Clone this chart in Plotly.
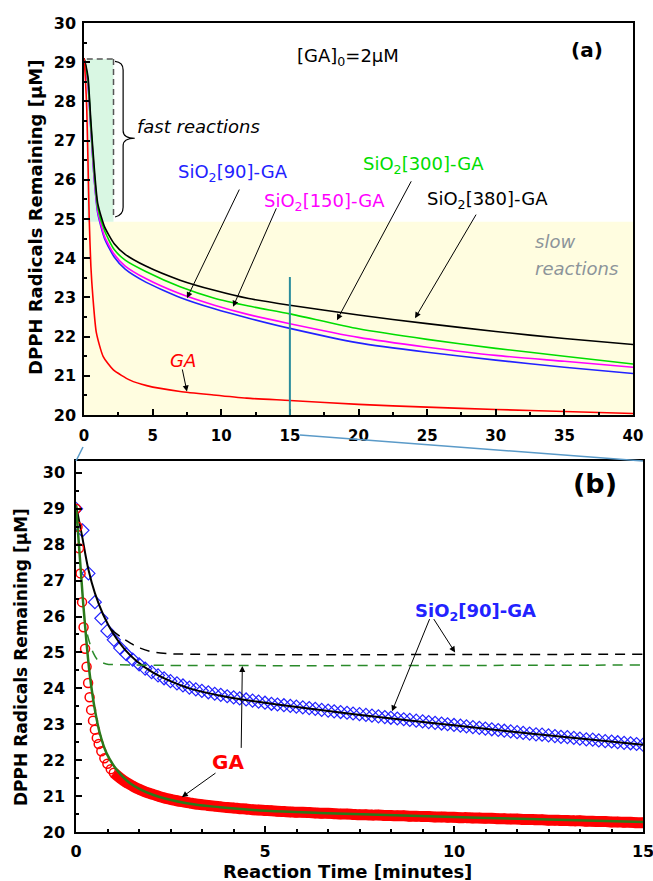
import plotly.graph_objects as go

# ---------------- Panel (a) data ----------------
a_t = [0, 0.15, 0.3, 0.5, 0.75, 1.0, 1.5, 2.2, 3.0, 4.5, 7.0, 9.5, 12, 15, 20, 25, 30, 35, 40]
a_380 = [29.1, 28.9, 28.6, 27.5, 26.3, 25.4, 24.8, 24.37, 24.1, 23.8, 23.44, 23.18, 22.97, 22.8, 22.55, 22.33, 22.13, 21.95, 21.8]
a_300 = [29.1, 28.85, 28.5, 27.4, 26.15, 25.3, 24.7, 24.22, 23.95, 23.66, 23.27, 22.98, 22.78, 22.58, 22.2, 21.93, 21.7, 21.5, 21.3]
a_150 = [29.1, 28.8, 28.4, 27.3, 26.0, 25.2, 24.55, 24.1, 23.8, 23.48, 23.09, 22.8, 22.56, 22.33, 21.98, 21.73, 21.52, 21.37, 21.22]
a_90 = [29.1, 28.8, 28.4, 27.3, 26.0, 25.15, 24.5, 24.03, 23.72, 23.39, 23.0, 22.71, 22.47, 22.21, 21.84, 21.6, 21.4, 21.22, 21.06]
a_ga_t = [0, 0.1, 0.2, 0.3, 0.38, 0.5, 0.65, 0.9, 1.4, 2.14, 3.35, 4.57, 7, 9.43, 11.86, 15, 20, 25, 30, 35, 40]
a_ga = [29.1, 28.6, 27.8, 26.3, 25.0, 23.8, 23.0, 22.1, 21.49, 21.15, 20.89, 20.75, 20.6, 20.51, 20.43, 20.37, 20.27, 20.2, 20.14, 20.09, 20.04]

# ---------------- Panel (b) data ----------------
b_sio_t = [0, 0.17, 0.33, 0.5, 0.67, 0.83, 1.0, 1.17, 1.33, 1.5, 1.67, 1.83, 2.0, 2.17, 2.33, 2.5,
           2.67, 2.83, 3.0, 3.17, 3.33, 3.5, 3.67, 3.83, 4.0, 4.17, 4.33, 4.5, 4.67, 4.83, 5.0,
           5.17, 5.33, 5.5, 5.67, 5.83, 6.0, 6.17, 6.33, 6.5, 6.67, 6.83, 7.0, 7.17, 7.33, 7.5,
           7.67, 7.83, 8.0, 8.17, 8.33, 8.5, 8.67, 8.83, 9.0, 9.17, 9.33, 9.5, 9.67, 9.83, 10.0,
           10.17, 10.33, 10.5, 10.67, 10.83, 11.0, 11.17, 11.33, 11.5, 11.67, 11.83, 12.0, 12.17,
           12.33, 12.5, 12.67, 12.83, 13.0, 13.17, 13.33, 13.5, 13.67, 13.83, 14.0, 14.17, 14.33,
           14.5, 14.67, 14.83, 15.0]
b_sio = [29.0, 28.4, 27.2, 26.4, 25.95, 25.6, 25.35, 25.12, 24.95, 24.8, 24.67, 24.55, 24.45, 24.36, 24.28, 24.2,
         24.14, 24.08, 24.02, 23.97, 23.93, 23.89, 23.85, 23.82, 23.78, 23.75, 23.72, 23.69, 23.66, 23.63, 23.6,
         23.57, 23.55, 23.53, 23.51, 23.49, 23.47, 23.45, 23.43, 23.4, 23.38, 23.36, 23.34, 23.32, 23.3, 23.28,
         23.26, 23.24, 23.22, 23.2, 23.18, 23.16, 23.14, 23.12, 23.1, 23.08, 23.06, 23.04, 23.02, 23.0, 22.98,
         22.96, 22.94, 22.92, 22.9, 22.88, 22.86, 22.84, 22.82, 22.8, 22.78, 22.76, 22.74, 22.72,
         22.71, 22.69, 22.67, 22.65, 22.64, 22.62, 22.6, 22.58, 22.57, 22.55, 22.53, 22.52, 22.5,
         22.48, 22.47, 22.45, 22.43]
b_sio_fit_t = [0, 0.15, 0.33, 0.5, 0.72, 1.0, 1.3, 1.6, 2.05, 2.5, 3, 4, 5, 6, 8, 10, 12, 15]
b_sio_fit = [29.1, 28.3, 27.3, 26.65, 26.05, 25.5, 25.07, 24.76, 24.43, 24.2, 24.0, 23.76, 23.6, 23.46, 23.2, 22.97, 22.74, 22.43]
b_sio_fast_t = [0.94, 1.2, 1.45, 1.7, 2.0, 2.4, 3.0, 15]
b_sio_fast = [25.63, 25.42, 25.25, 25.12, 25.02, 24.97, 24.95, 24.95]

b_ga_t = [0, 0.04, 0.08, 0.12, 0.16, 0.2, 0.24, 0.28, 0.32, 0.36, 0.4, 0.45, 0.5, 0.55, 0.6, 0.67, 0.75, 0.83, 0.92,
          1.0, 1.17, 1.33, 1.5, 1.67, 1.83, 2.0, 2.17, 2.33, 2.5,
          2.67, 2.83, 3.0, 3.17, 3.33, 3.5, 3.67, 3.83, 4.0, 4.17, 4.33, 4.5, 4.67, 4.83, 5.0,
          5.17, 5.33, 5.5, 5.67, 5.83, 6.0, 6.17, 6.33, 6.5, 6.67, 6.83, 7.0, 7.17, 7.33, 7.5,
          7.67, 7.83, 8.0, 8.17, 8.33, 8.5, 8.67, 8.83, 9.0, 9.17, 9.33, 9.5, 9.67, 9.83, 10.0,
          10.17, 10.33, 10.5, 10.67, 10.83, 11.0, 11.17, 11.33, 11.5, 11.67, 11.83, 12.0, 12.17,
          12.33, 12.5, 12.67, 12.83, 13.0, 13.17, 13.33, 13.5, 13.67, 13.83, 14.0, 14.17, 14.33,
          14.5, 14.67, 14.83, 15.0]
b_ga = [29.0, 28.5, 27.9, 27.2, 26.4, 25.7, 25.1, 24.6, 24.15, 23.75, 23.4, 23.1, 22.85, 22.62, 22.45, 22.25, 22.05, 21.9, 21.75,
        21.65, 21.5, 21.38, 21.28, 21.19, 21.12, 21.06, 21.0, 20.95, 20.91,
        20.87, 20.84, 20.81, 20.78, 20.76, 20.74, 20.72, 20.7, 20.68, 20.67, 20.65, 20.64, 20.62, 20.61, 20.6,
        20.59, 20.58, 20.57, 20.56, 20.55, 20.55, 20.54, 20.53, 20.52, 20.52, 20.51, 20.5, 20.5, 20.49, 20.48,
        20.48, 20.47, 20.47, 20.46, 20.46, 20.45, 20.45, 20.44, 20.44, 20.43, 20.43, 20.42, 20.42, 20.41, 20.41,
        20.4, 20.4, 20.39, 20.39, 20.38, 20.38, 20.37, 20.37, 20.36, 20.36, 20.35, 20.35, 20.34,
        20.34, 20.33, 20.33, 20.32, 20.32, 20.31, 20.31, 20.3, 20.3, 20.29, 20.29, 20.28, 20.28,
        20.27, 20.27, 20.26, 20.26]
b_ga_fit_t = [0, 0.1, 0.19, 0.28, 0.37, 0.5, 0.63, 0.81, 1.08, 1.43, 2.05, 2.93, 3.81, 5.04, 6.45, 8, 10, 12, 15]
b_ga_fit = [29.1, 27.67, 26.37, 25.26, 24.33, 23.4, 22.75, 22.19, 21.73, 21.36, 21.03, 20.8, 20.69, 20.59, 20.53, 20.48, 20.42, 20.36, 20.28]
b_ga_fast_t = [0.3, 0.38, 0.46, 0.55, 0.65, 0.8, 1.0, 15]
b_ga_fast = [25.5, 25.2, 24.98, 24.82, 24.74, 24.68, 24.66, 24.65]

FONT = "DejaVu Sans"
BLUE = "#2222ff"
GREEN = "#00dd00"
MAG = "#ff00ff"
RED = "#ff0000"

fig = go.Figure()

# panel (a)
for vals, col in [(a_90, BLUE), (a_150, MAG), (a_300, GREEN), (a_380, "black")]:
    fig.add_trace(go.Scatter(x=a_t, y=vals, mode="lines", line=dict(color=col, width=1.6, shape="spline", smoothing=0.6),
                             xaxis="x", yaxis="y", showlegend=False, hoverinfo="skip"))
fig.add_trace(go.Scatter(x=a_ga_t, y=a_ga, mode="lines", line=dict(color=RED, width=1.6, shape="spline", smoothing=0.6),
                         xaxis="x", yaxis="y", showlegend=False, hoverinfo="skip"))

# panel (b)
fig.add_trace(go.Scatter(x=b_sio_t, y=b_sio, mode="markers",
                         marker=dict(symbol="diamond-open", size=10, color=BLUE, line=dict(width=1.2, color=BLUE)),
                         xaxis="x2", yaxis="y2", showlegend=False, hoverinfo="skip"))
fig.add_trace(go.Scatter(x=b_sio_fit_t, y=b_sio_fit, mode="lines", line=dict(color="black", width=2, shape="spline"),
                         xaxis="x2", yaxis="y2", showlegend=False, hoverinfo="skip"))
band_start = 19
fig.add_trace(go.Scatter(x=b_ga_t[band_start:], y=b_ga[band_start:], mode="lines",
                         line=dict(color=RED, width=11, shape="spline"),
                         xaxis="x2", yaxis="y2", showlegend=False, hoverinfo="skip"))
fig.add_trace(go.Scatter(x=b_ga_t, y=b_ga, mode="markers",
                         marker=dict(symbol="circle-open", size=9, color=RED, line=dict(width=1.5, color=RED)),
                         xaxis="x2", yaxis="y2", showlegend=False, hoverinfo="skip"))
fig.add_trace(go.Scatter(x=b_ga_fit_t, y=b_ga_fit, mode="lines", line=dict(color="#2a7a1a", width=2.5, shape="spline"),
                         xaxis="x2", yaxis="y2", showlegend=False, hoverinfo="skip"))
fig.add_trace(go.Scatter(x=b_sio_fast_t, y=b_sio_fast, mode="lines",
                         line=dict(color="black", width=1.5, dash="10px,7px", shape="spline"),
                         xaxis="x2", yaxis="y2", showlegend=False, hoverinfo="skip"))
fig.add_trace(go.Scatter(x=b_ga_fast_t, y=b_ga_fast, mode="lines",
                         line=dict(color="#2a8a2a", width=1.5, dash="10px,7px", shape="spline"),
                         xaxis="x2", yaxis="y2", showlegend=False, hoverinfo="skip"))

W, H = 653, 881
def px(x):
    return x / W
def py(y):
    return 1 - y / H

axis_common = dict(showline=True, linecolor="black", linewidth=1.5, mirror=True, showgrid=False, zeroline=False,
                   ticks="inside", ticklen=6, tickwidth=1.5, tickcolor="black", automargin=False,
                   ticklabeloverflow="allow")
tick_font = dict(family=FONT, size=16, color="black", weight="bold")

fig.update_layout(
    template="none",
    width=W, height=H, margin=dict(l=0, r=0, t=0, b=0, pad=0, autoexpand=False),
    paper_bgcolor="white", plot_bgcolor="white",
    font=dict(family=FONT, color="black"),
    xaxis=dict(domain=[px(84), px(633)], range=[0, 40], anchor="y", dtick=5, tick0=0,
               minor=dict(ticks="inside", dtick=2.5, ticklen=3, tickcolor="black"),
               tickfont=dict(family=FONT, size=15, color="black", weight="bold"), ticklabelstandoff=6, **axis_common),
    yaxis=dict(domain=[py(415), py(23)], range=[20, 30], anchor="x", dtick=1, tick0=20,
               minor=dict(ticks="inside", dtick=0.5, ticklen=3, tickcolor="black"),
               tickfont=tick_font, ticklabelstandoff=3, **axis_common),
    xaxis2=dict(domain=[px(76), px(643)], range=[0, 15], anchor="y2", dtick=5, tick0=0,
                minor=dict(ticks="inside", dtick=5 / 6, ticklen=3, tickcolor="black"),
                tickfont=tick_font, ticklabelstandoff=4, **axis_common),
    yaxis2=dict(domain=[py(832), py(461)], range=[20, 30.33], anchor="x2", dtick=1, tick0=20,
                minor=dict(ticks="inside", dtick=0.5, ticklen=3, tickcolor="black"),
                tickfont=tick_font, ticklabelstandoff=6, **axis_common),
)

shapes = [
    # slow reactions region
    dict(type="rect", xref="x", yref="y", x0=0, x1=40, y0=20, y1=24.93, fillcolor="#fffde0", line=dict(width=0), layer="below"),
    # fast reactions region
    dict(type="rect", xref="x", yref="y", x0=0.2, x1=2.15, y0=24.93, y1=29.08, fillcolor="#d9f7e3", line=dict(width=0), layer="below"),
    dict(type="line", xref="x", yref="y", x0=0.2, x1=2.15, y0=29.08, y1=29.08, line=dict(color="#555", width=1.5, dash="6px,4px")),
    dict(type="line", xref="x", yref="y", x0=2.15, x1=2.15, y0=29.08, y1=25.05, line=dict(color="#555", width=1.5, dash="6px,4px")),
    # brace
    dict(type="path", xref="x", yref="y",
         path="M 2.26,29.02 Q 2.85,29.0 2.85,28.8 L 2.85,27.25 Q 2.85,27.06 3.7,27.06 Q 2.85,27.06 2.85,26.87 L 2.85,25.3 Q 2.85,25.1 2.26,25.05",
         line=dict(color="black", width=1.2)),
    # zoom marker line at 15 min
    dict(type="line", xref="x", yref="y", x0=15, x1=15, y0=20, y1=23.52, line=dict(color="#2a8c9c", width=2)),
    # connecting lines between panels
    dict(type="line", xref="paper", yref="paper", x0=px(83), y0=py(447), x1=px(76), y1=py(461), line=dict(color="#5a9ac8", width=1.5)),
    dict(type="line", xref="paper", yref="paper", x0=px(300), y0=py(435), x1=px(643), y1=py(461), line=dict(color="#5a9ac8", width=1.5)),
]
fig.update_layout(shapes=shapes)

ann = []
def text(x, y, t, size, color="black", ref="", bold=False, italic=False, xanchor="center", family=FONT):
    f = dict(family=family, size=size, color=color)
    if bold:
        f["weight"] = "bold"
    if italic:
        f["style"] = "italic"
    ann.append(dict(x=x, y=y, xref="x" + ref, yref="y" + ref, text=t, showarrow=False, font=f,
                    xanchor=xanchor, yanchor="middle"))

def arrow(tail, head, ref=""):
    ann.append(dict(x=head[0], y=head[1], ax=tail[0], ay=tail[1], xref="x" + ref, yref="y" + ref,
                    axref="x" + ref, ayref="y" + ref, text="", showarrow=True, arrowhead=2,
                    arrowsize=1.2, arrowwidth=1, arrowcolor="black"))

# panel (a) labels
text(19.24, 29.13, "[GA]<sub>0</sub>=2μM", 18)
text(36.65, 29.31, "(a)", 20, bold=True)
text(3.75, 27.35, "fast reactions", 18, italic=True, xanchor="left")
text(10.86, 26.17, "SiO<sub>2</sub>[90]-GA", 18, color=BLUE)
text(17.49, 25.43, "SiO<sub>2</sub>[150]-GA", 18, color=MAG)
text(24.7, 26.38, "SiO<sub>2</sub>[300]-GA", 18, color=GREEN)
text(29.43, 25.48, "SiO<sub>2</sub>[380]-GA", 18, color="black")
text(7.21, 21.38, "GA", 18, color=RED, italic=True)
text(32.7, 24.42, "slow", 18, color="#8c949a", italic=True, xanchor="left")
text(32.7, 23.73, "reactions", 18, color="#8c949a", italic=True, xanchor="left")
arrow((11.37, 25.79), (7.5, 22.98))
arrow((14.06, 25.31), (10.86, 22.76))
arrow((23.9, 26.0), (18.43, 22.42))
arrow((28.63, 25.15), (24.12, 22.47))
arrow((7.14, 21.2), (7.5, 20.6))

# panel (b) labels
text(13.73, 29.69, "(b)", 27, bold=True, ref="2")
text(10.58, 26.13, "SiO<sub>2</sub>[90]-GA", 18, color=BLUE, bold=True, ref="2")
text(4.02, 21.94, "GA", 20, color=RED, bold=True, ref="2")
arrow((9.37, 25.97), (8.36, 23.36), ref="2")
arrow((9.44, 25.97), (10.03, 25.0), ref="2")
arrow((4.37, 22.3), (4.4, 24.62), ref="2")
arrow((3.73, 21.67), (2.8, 20.97), ref="2")

# axis titles
ann.append(dict(x=px(35), y=py(218), xref="paper", yref="paper", text="DPPH Radicals Remaining [μM]", textangle=-90,
                showarrow=False, font=dict(family=FONT, size=18, color="black", weight="bold"), xanchor="center", yanchor="middle"))
ann.append(dict(x=px(21), y=py(657), xref="paper", yref="paper", text="DPPH Radicals Remaining [μM]", textangle=-90,
                showarrow=False, font=dict(family=FONT, size=17, color="black", weight="bold"), xanchor="center", yanchor="middle"))
ann.append(dict(x=px(347), y=py(871), xref="paper", yref="paper", text="Reaction Time [minutes]",
                showarrow=False, font=dict(family=FONT, size=18, color="black", weight="bold"), xanchor="center", yanchor="middle"))

fig.update_layout(annotations=ann)
fig.write_html("out.html")
